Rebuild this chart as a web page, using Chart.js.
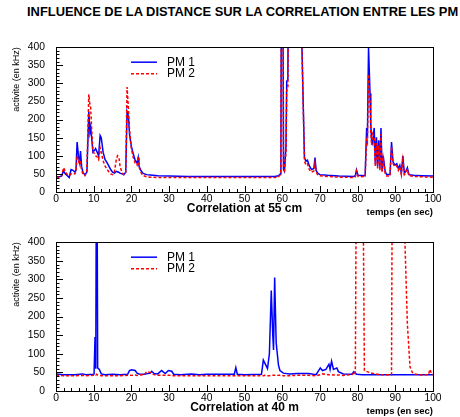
<!DOCTYPE html>
<html>
<head>
<meta charset="utf-8">
<script src="https://cdn.jsdelivr.net/npm/chart.js@4.4.1/dist/chart.umd.min.js"></script>
<style>
  html, body { margin: 0; padding: 0; background: #fff; }
  #page { position: relative; width: 460px; height: 417px; overflow: hidden; background: #fff; }
  #title { position: absolute; left: 27px; top: 6.4px; font: bold 12.9px "Liberation Sans", Arial, sans-serif; line-height: 1; white-space: nowrap; color: #000; }
  canvas { position: absolute; left: 0; top: 0; }
</style>
</head>
<body>
<div id="page">
  <div id="title">INFLUENCE DE LA DISTANCE SUR LA CORRELATION ENTRE LES PM</div>
  <div style="position:absolute;left:0;top:30px;width:460px;height:190px"><canvas id="chartTop" width="460" height="190"></canvas></div>
  <div style="position:absolute;left:0;top:225px;width:460px;height:192px"><canvas id="chartBottom" width="460" height="192"></canvas></div>
</div>
<script>
// ---- data -------------------------------------------------------------
const seriesLabels = ['PM 1', 'PM 2'];
const xTickValues = [0, 10, 20, 30, 40, 50, 60, 70, 80, 90, 100];
const yTickValues = [0, 50, 100, 150, 200, 250, 300, 350, 400];
const xAxisTitle = 'temps (en sec)';
const yAxisTitle = 'activite (en kHz)';
const captionTop = 'Correlation at 55 cm';
const captionBottom = 'Correlation at 40 m';

// photomultipliers 55 cm apart (time in s, rate in kHz)
const timeTop = [0, 0.5, 1, 1.5, 2, 2.5, 3, 3.5, 4, 4.5, 5, 5.3, 5.6, 6, 6.3, 6.5, 6.8, 7.2, 7.7, 8.2,
  8.7, 9, 9.2, 9.5, 9.8, 10.2, 10.5, 11, 11.3, 11.7, 12, 12.5, 13, 13.5, 14, 14.5, 15, 15.5, 16, 16.3,
  16.7, 17, 17.5, 18, 18.5, 18.85, 19.2, 19.5, 20, 20.5, 21, 21.5, 21.8, 22, 22.5, 23, 24, 25, 27, 30,
  35, 40, 45, 50, 55, 58, 59, 59.5, 59.65, 59.85, 60.1, 60.35, 60.6, 61.0, 61.2, 61.5, 61.8, 63, 65.0, 65.2,
  65.9, 66.3, 66.7, 67.2, 67.8, 68.4, 68.7, 69.0, 69.4, 70, 72, 75, 79, 79.4, 79.7, 80.1, 82.0, 82.4, 82.6, 82.9,
  83.3, 83.5, 83.7, 84.0, 84.4, 84.7, 85.0, 85.3, 85.6, 85.9, 86.2, 86.5, 86.8, 87.3, 87.7, 88.6, 89.0, 89.4, 89.9, 90.4,
  90.8, 91.2, 91.6, 92.0, 92.4, 92.8, 93.2, 93.6, 94.8, 97, 100];
const pm1Top = [42, 42, 42, 45, 58, 50, 45, 40, 62, 60, 55, 60, 138, 95, 80, 113, 70, 52, 48, 55,
  222, 165, 178, 145, 110, 115, 120, 108, 100, 156, 150, 110, 90, 82, 72, 62, 55, 52, 57, 56,
  54, 52, 50, 48, 55, 222, 210, 160, 125, 105, 88, 80, 95, 72, 60, 52, 48, 47, 45, 44,
  43, 43, 43, 43, 43, 43, 45, 50, 55, 900, 900, 62, 57, 125, 306, 310, 900, 1000, 900, 420,
  95, 85, 88, 72, 62, 65, 95, 60, 52, 48, 46, 44, 43, 45, 61, 46, 45, 177, 150, 398,
  272, 186, 143, 134, 177, 78, 151, 70, 143, 65, 177, 57, 100, 57, 48, 48, 138, 83, 74, 78,
  65, 74, 52, 100, 52, 57, 67, 48, 46, 45, 44];
const pm2Top = [40, 40, 41, 44, 67, 56, 48, 45, 50, 52, 50, 56, 100, 84, 90, 82, 60, 48, 45, 60,
  270, 240, 232, 165, 112, 106, 100, 96, 90, 122, 110, 86, 72, 63, 56, 50, 48, 56, 90, 100,
  95, 70, 55, 48, 52, 290, 232, 172, 120, 95, 80, 74, 98, 70, 55, 46, 42, 41, 40, 40,
  40, 40, 40, 40, 40, 40, 42, 48, 62, 900, 900, 66, 60, 110, 280, 290, 900, 1000, 900, 410,
  85, 75, 78, 62, 55, 58, 80, 55, 48, 45, 43, 41, 40, 42, 58, 43, 42, 150, 140, 325,
  250, 170, 130, 160, 150, 72, 135, 65, 130, 60, 160, 55, 92, 52, 44, 44, 125, 78, 70, 72,
  60, 70, 48, 88, 48, 54, 62, 45, 43, 42, 41];

// photomultipliers 40 m apart
const timeBottom = [0, 2, 5, 7, 8, 10, 10.1, 10.35, 10.55, 10.8, 11.05, 11.5, 12, 13, 15, 17, 19, 19.5, 20, 21,
  21.5, 22, 23.5, 24, 25, 25.4, 26, 27, 28, 29, 29.8, 30.7, 31.2, 33, 36, 38, 40, 45, 47.3, 47.7,
  48.1, 50, 54.5, 55.0, 55.4, 56.1, 56.6, 57.1, 57.5, 57.7, 58.0, 58.4, 59.0, 59.4, 60.3, 62, 64, 67, 69, 70.1,
  70.7, 71.6, 72.4, 72.7, 73.1, 73.6, 74.5, 74.9, 76.2, 78.5, 79.0, 79.4, 79.8, 81.2, 81.8, 83, 84.5, 86, 89.0, 89.3,
  92.3, 92.5, 93.2, 93.9, 94.5, 95, 97, 98.8, 99.2, 99.6, 100];
const pm1Bottom = [46, 44, 44, 46, 44, 45, 46, 145, 60, 900, 62, 58, 46, 44, 45, 44, 45, 55, 57, 55,
  48, 46, 45, 46, 48, 53, 47, 46, 55, 47, 55, 53, 45, 44, 46, 44, 45, 45, 45, 63,
  45, 44, 45, 83, 75, 60, 100, 270, 150, 110, 305, 130, 70, 55, 48, 46, 47, 47, 44, 62,
  55, 58, 72, 58, 80, 58, 62, 52, 46, 45, 52, 47, 45, 44, 44, 44, 44, 44, 44, 44,
  44, 44, 44, 44, 44, 44, 44, 44, 44, 44, 44];
const pm2Bottom = [42, 41, 41, 42, 41, 42, 42, 44, 43, 45, 43, 42, 41, 41, 41, 41, 42, 42, 42, 43,
  42, 43, 44, 52, 50, 47, 44, 42, 42, 42, 42, 42, 41, 41, 41, 41, 41, 41, 41, 41,
  41, 41, 41, 41, 42, 41, 41, 42, 42, 42, 42, 43, 42, 42, 41, 41, 42, 42, 41, 44,
  46, 45, 44, 44, 44, 43, 43, 43, 42, 44, 48, 44, 900, 900, 55, 50, 46, 44, 44, 900,
  900, 420, 180, 65, 50, 46, 43, 44, 58, 46, 44];

// ---- drawing ----------------------------------------------------------
const FONT = '"Liberation Sans", Arial, Helvetica, sans-serif';
const BLUE = '#0000ff';
const RED = '#ff0000';

// inward tick marks and the black frame around the plot area
const frameTicks = {
  id: 'frameTicks',
  afterDatasetsDraw(chart) {
    const { ctx, chartArea: a, scales: { x, y } } = chart;
    ctx.save();
    ctx.strokeStyle = '#000';
    ctx.lineWidth = 1;
    ctx.beginPath();
    for (let v = x.min; v <= x.max + 1e-9; v += 2) {
      const px = Math.round(x.getPixelForValue(v)) + 0.5;
      const len = (Math.round(v) % 10 === 0) ? 6 : 3;
      ctx.moveTo(px, a.bottom);
      ctx.lineTo(px, a.bottom - len);
    }
    for (let v = y.min; v <= y.max + 1e-9; v += 10) {
      const py = Math.round(y.getPixelForValue(v)) + 0.5;
      const len = (Math.round(v) % 50 === 0) ? 7 : 3.5;
      ctx.moveTo(a.left, py);
      ctx.lineTo(a.left + len, py);
    }
    ctx.stroke();
    ctx.strokeRect(Math.round(a.left) + 0.5, Math.round(a.top) + 0.5,
                   Math.round(a.right - a.left), Math.round(a.bottom - a.top));
    ctx.restore();
  }
};

// in-plot legend and the caption under the axis
const legendCaption = {
  id: 'legendCaption',
  afterDraw(chart, args, opts) {
    const { ctx, chartArea: a } = chart;
    ctx.save();
    chart.data.datasets.forEach((ds, i) => {
      const ly = a.top + 15 + i * 11.5;
      ctx.strokeStyle = ds.borderColor;
      ctx.lineWidth = 1.5;
      ctx.setLineDash(ds.borderDash || []);
      ctx.beginPath();
      ctx.moveTo(131, ly);
      ctx.lineTo(157, ly);
      ctx.stroke();
      ctx.setLineDash([]);
      ctx.fillStyle = '#000';
      ctx.font = '12px ' + FONT;
      ctx.textBaseline = 'middle';
      ctx.textAlign = 'left';
      ctx.fillText(ds.label, 167, ly + 0.5);
    });
    ctx.font = 'bold 12px ' + FONT;
    ctx.textAlign = 'center';
    ctx.textBaseline = 'middle';
    ctx.fillStyle = '#000';
    ctx.fillText(opts.caption, (a.left + a.right) / 2, a.bottom + 16.5);
    ctx.restore();
  }
};

function makeChart(id, time, pm1, pm2, caption, topPad, xHeight, xTitlePad) {
  const pts = vals => time.map((t, i) => ({ x: t, y: vals[i] }));
  return new Chart(document.getElementById(id), {
    type: 'line',
    data: {
      datasets: [
        { label: seriesLabels[0], data: pts(pm1), borderColor: BLUE, borderWidth: 1.5,
          pointRadius: 0, tension: 0, fill: false, clip: 0, order: 1 },
        { label: seriesLabels[1], data: pts(pm2), borderColor: RED, borderWidth: 1.5,
          borderDash: [3, 2], pointRadius: 0, tension: 0, fill: false, clip: 0, order: 0 }
      ]
    },
    options: {
      responsive: false,
      animation: false,
      events: [],
      layout: { padding: { left: 0, right: 27, top: topPad, bottom: 0 } },
      plugins: {
        legend: { display: false },
        tooltip: { enabled: false },
        legendCaption: { caption }
      },
      scales: {
        x: {
          type: 'linear', min: 0, max: 100,
          afterBuildTicks: s => { s.ticks = xTickValues.map(v => ({ value: v })); },
          afterFit: s => { s.height = xHeight; },
          grid: { display: false, drawTicks: false },
          border: { display: false },
          ticks: { color: '#000', font: { family: FONT, size: 10.3 }, padding: 1, maxRotation: 0, autoSkip: false },
          title: { display: true, text: xAxisTitle, align: 'end', color: '#000',
                   font: { family: FONT, size: 9.5, weight: 'bold' }, padding: { top: 0, bottom: xTitlePad } }
        },
        y: {
          type: 'linear', min: 0, max: 400,
          afterBuildTicks: s => { s.ticks = yTickValues.map(v => ({ value: v })); },
          afterFit: s => { s.width = 56; },
          grid: { display: false, drawTicks: false },
          border: { display: false },
          ticks: { color: '#000', font: { family: FONT, size: 10.3 }, padding: 11, autoSkip: false },
          title: { display: true, text: yAxisTitle, align: 'end', color: '#000',
                   font: { family: FONT, size: 9 }, padding: { top: 11.5, bottom: 0 } }
        }
      }
    },
    plugins: [frameTicks, legendCaption]
  });
}

makeChart('chartTop', timeTop, pm1Top, pm2Top, captionTop, 7, 28, 2.3);
makeChart('chartBottom', timeBottom, pm1Bottom, pm2Bottom, captionBottom, 12, 26, 0.3);
</script>
</body>
</html>
